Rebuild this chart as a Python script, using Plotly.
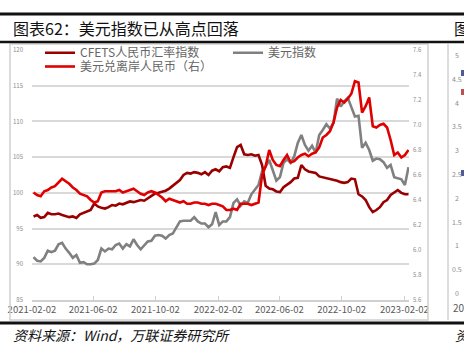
import pandas as pd
import plotly.graph_objects as go

# Weekly observations (Fridays), Feb 2021 - Feb 2023
dates = pd.date_range("2021-02-05", periods=106, freq="7D")

cfets_index = [
    96.7, 96.9, 96.5, 96.6, 97.2, 97.0, 97.0, 97.1, 96.9, 96.8,
    96.6, 96.7, 96.5, 97.0, 97.2, 97.4, 97.6, 98.5, 98.1, 97.9,
    97.8, 98.0, 98.3, 98.2, 98.5, 98.4, 98.6, 98.8, 98.7, 98.9,
    99.0, 98.9, 99.2, 99.6, 99.9, 100.0, 100.1, 100.3, 100.6, 101.0,
    101.4, 101.8, 102.5, 102.8, 102.7, 102.9, 102.8, 102.6, 102.9, 102.5,
    103.1, 103.3, 103.0, 103.6, 103.7, 103.5, 105.0, 106.4, 106.7, 105.4,
    105.3, 105.4, 105.2, 105.3, 103.9, 101.0, 100.6, 100.5, 100.2, 100.1,
    100.8, 101.1, 101.5, 102.0, 102.1, 103.9, 103.3, 103.0, 102.9, 102.8,
    102.3, 102.2, 102.1, 102.0, 101.8, 101.7, 101.5, 101.4, 101.5, 102.0,
    101.9, 99.8, 99.5, 99.0, 98.0, 97.3, 97.6, 98.0, 98.7, 99.0,
    99.7, 100.0, 100.4, 100.0, 99.8, 99.8,
]

usd_index = [
    91.0, 90.5, 90.4, 90.9, 91.9, 91.7, 91.9, 92.8, 93.0, 92.2,
    91.6, 90.9, 91.3, 90.2, 90.3, 90.0, 90.0, 90.1, 90.6, 92.2,
    91.8, 92.2, 92.1, 92.7, 92.9, 92.2, 92.8, 92.5, 93.5, 92.7,
    92.1, 92.6, 93.2, 93.3, 94.0, 94.1, 94.0, 93.6, 94.1, 94.3,
    95.1, 96.0, 96.1, 96.1, 96.1, 96.6, 96.0, 95.7, 95.7, 95.2,
    95.6, 97.3, 95.5, 96.0, 96.0, 96.6, 98.6, 99.1, 98.2, 98.8,
    98.6, 99.8, 100.5, 101.1, 103.0, 103.7, 104.6, 103.0, 101.7, 102.2,
    104.2, 104.7, 104.2, 105.1, 107.0, 108.1, 106.7, 105.9, 106.6, 105.6,
    108.1, 108.8, 109.6, 109.0, 109.8, 113.2, 112.1, 112.8, 113.3, 112.0,
    110.7, 110.8, 106.3, 107.0, 106.0, 104.5, 104.8, 104.7, 104.3, 103.5,
    103.9, 102.2, 102.0, 101.9, 101.1, 103.6,
]

usd_cnh = [
    6.46, 6.44, 6.43, 6.47, 6.48, 6.50, 6.51, 6.54, 6.57, 6.55,
    6.53, 6.50, 6.48, 6.45, 6.44, 6.43, 6.40, 6.38, 6.39, 6.46,
    6.47, 6.47, 6.47, 6.47, 6.48, 6.46, 6.47, 6.48, 6.49, 6.47,
    6.45, 6.44, 6.46, 6.47, 6.46, 6.44, 6.42, 6.39, 6.41, 6.40,
    6.39, 6.38, 6.39, 6.37, 6.37, 6.38, 6.38, 6.37, 6.37, 6.36,
    6.37, 6.37, 6.36, 6.35, 6.32, 6.32, 6.33, 6.32, 6.37, 6.37,
    6.37, 6.36, 6.37, 6.38, 6.60, 6.67, 6.80, 6.72, 6.68, 6.67,
    6.72, 6.76, 6.70, 6.71, 6.74, 6.76, 6.77, 6.75, 6.77, 6.78,
    6.82, 6.90, 6.92, 6.95, 7.02, 7.14, 7.20, 7.18, 7.21, 7.25,
    7.35, 7.34, 7.10, 7.15, 7.22, 6.99, 6.98, 7.00, 7.01, 6.98,
    6.88, 6.76, 6.78, 6.74, 6.76, 6.80,
]

x_tick_dates = ["2021-02-02", "2021-06-02", "2021-10-02", "2022-02-02",
                "2022-06-02", "2022-10-02", "2023-02-02"]
left_ticks = [85, 90, 95, 100, 105, 110, 115, 120]
right_ticks = [5.6, 5.8, 6.0, 6.2, 6.4, 6.6, 6.8, 7.0, 7.2, 7.4, 7.6]
next_chart_ticks = ["5", "4.5", "4", "3.5", "3", "2.5", "2", "1.5", "1", "0.5", "0"]

W, H = 464, 346
L, R, T, B = 32, 409, 50, 300
FONT = "Noto Sans CJK SC"


def px(x):
    return (x - L) / (R - L)


def py(y):
    return (B - y) / (B - T)


fig = go.Figure()
fig.add_trace(go.Scatter(x=dates, y=usd_index, name="美元指数", mode="lines",
                         line=dict(color="#808080", width=2.6), legend="legend2"))
fig.add_trace(go.Scatter(x=dates, y=cfets_index, name="CFETS人民币汇率指数", mode="lines",
                         line=dict(color="#9a0000", width=2.6), legend="legend"))
fig.add_trace(go.Scatter(x=dates, y=usd_cnh, name="美元兑离岸人民币（右）", mode="lines",
                         yaxis="y2", line=dict(color="#e00000", width=2.6), legend="legend3"))

legend_font = dict(family=FONT, size=12, color="#666666")


def legend_at(x, y):
    return dict(xref="paper", yref="paper", x=px(x), y=py(y),
                xanchor="left", yanchor="middle", bgcolor="rgba(0,0,0,0)",
                font=legend_font, itemwidth=30, borderwidth=0)


shapes = [
    # chart frame
    dict(type="rect", xref="paper", yref="paper", x0=px(10), x1=px(428), y0=py(320), y1=py(44),
         line=dict(color="#d0d0d0", width=1.5)),
    # neighbouring frame edge
    dict(type="line", xref="paper", yref="paper", x0=px(448), x1=px(448), y0=py(320), y1=py(44),
         line=dict(color="#d0d0d0", width=1.5)),
    # heavy rules
    dict(type="line", xref="paper", yref="paper", x0=px(0), x1=px(464), y0=py(14), y1=py(14),
         line=dict(color="#111111", width=3)),
    dict(type="line", xref="paper", yref="paper", x0=px(0), x1=px(464), y0=py(42), y1=py(42),
         line=dict(color="#111111", width=2.5)),
    dict(type="line", xref="paper", yref="paper", x0=px(0), x1=px(464), y0=py(323), y1=py(323),
         line=dict(color="#111111", width=3)),
    # neighbouring legend markers
    dict(type="rect", xref="paper", yref="paper", x0=px(461), x1=px(465), y0=py(76), y1=py(70),
         line=dict(width=0), fillcolor="#4a5d9a"),
    dict(type="rect", xref="paper", yref="paper", x0=px(461), x1=px(465), y0=py(95), y1=py(89),
         line=dict(width=0), fillcolor="#c0504d"),
    dict(type="rect", xref="paper", yref="paper", x0=px(461), x1=px(465), y0=py(176), y1=py(170),
         line=dict(width=0), fillcolor="#4a5d9a"),
]

annotations = [
    dict(text="图表62：美元指数已从高点回落", xref="paper", yref="paper", x=px(11), y=py(28),
         xanchor="left", yanchor="middle", showarrow=False,
         font=dict(family=FONT, size=16, color="#111111")),
    dict(text="<i>资料来源：Wind，万联证券研究所</i>", xref="paper", yref="paper", x=px(11), y=py(335),
         xanchor="left", yanchor="middle", showarrow=False,
         font=dict(family=FONT, size=14, color="#111111")),
    dict(text="图", xref="paper", yref="paper", x=px(452), y=py(28),
         xanchor="left", yanchor="middle", showarrow=False,
         font=dict(family=FONT, size=16, color="#111111")),
    dict(text="<i>资</i>", xref="paper", yref="paper", x=px(453), y=py(335),
         xanchor="left", yanchor="middle", showarrow=False,
         font=dict(family=FONT, size=14, color="#111111")),
    dict(text="201", xref="paper", yref="paper", x=px(451), y=py(307),
         xanchor="left", yanchor="middle", showarrow=False,
         font=dict(family=FONT, size=10, color="#595959")),
]
for i, lab in enumerate(next_chart_ticks):
    annotations.append(dict(text=lab, xref="paper", yref="paper", x=px(457),
                            y=py(55 + i * 23.8), xanchor="center", yanchor="middle",
                            showarrow=False,
                            font=dict(family=FONT, size=7, color="#8c8c8c")))

fig.update_layout(
    width=W, height=H,
    margin=dict(l=L, r=W - R, t=T, b=H - B, pad=0, autoexpand=False),
    paper_bgcolor="white", plot_bgcolor="white",
    font=dict(family=FONT),
    showlegend=True,
    legend=legend_at(40, 52.7),
    legend2=legend_at(228, 52.7),
    legend3=legend_at(40, 66.5),
    xaxis=dict(type="date", range=["2021-02-02", "2023-02-11"],
               tickvals=x_tick_dates, ticktext=x_tick_dates, tickangle=0,
               showgrid=False, showline=True, linecolor="#d0d0d0", linewidth=1.5,
               ticks="inside", ticklen=4, tickcolor="#d0d0d0",
               tickfont=dict(family=FONT, size=9.5, color="#595959"), zeroline=False),
    yaxis=dict(range=[85, 120], tickvals=left_ticks, showgrid=True,
               gridcolor="#d9d9d9", gridwidth=1.5, zeroline=False,
               tickfont=dict(family=FONT, size=6, color="#8c8c8c"), ticklabelstandoff=8),
    yaxis2=dict(range=[5.6, 7.6], tickvals=right_ticks, tickformat=".1f",
                overlaying="y", side="right", showgrid=False, zeroline=False,
                tickfont=dict(family=FONT, size=6, color="#8c8c8c"), ticklabelstandoff=3),
    shapes=shapes,
    annotations=annotations,
)

fig.write_html("out.html")
